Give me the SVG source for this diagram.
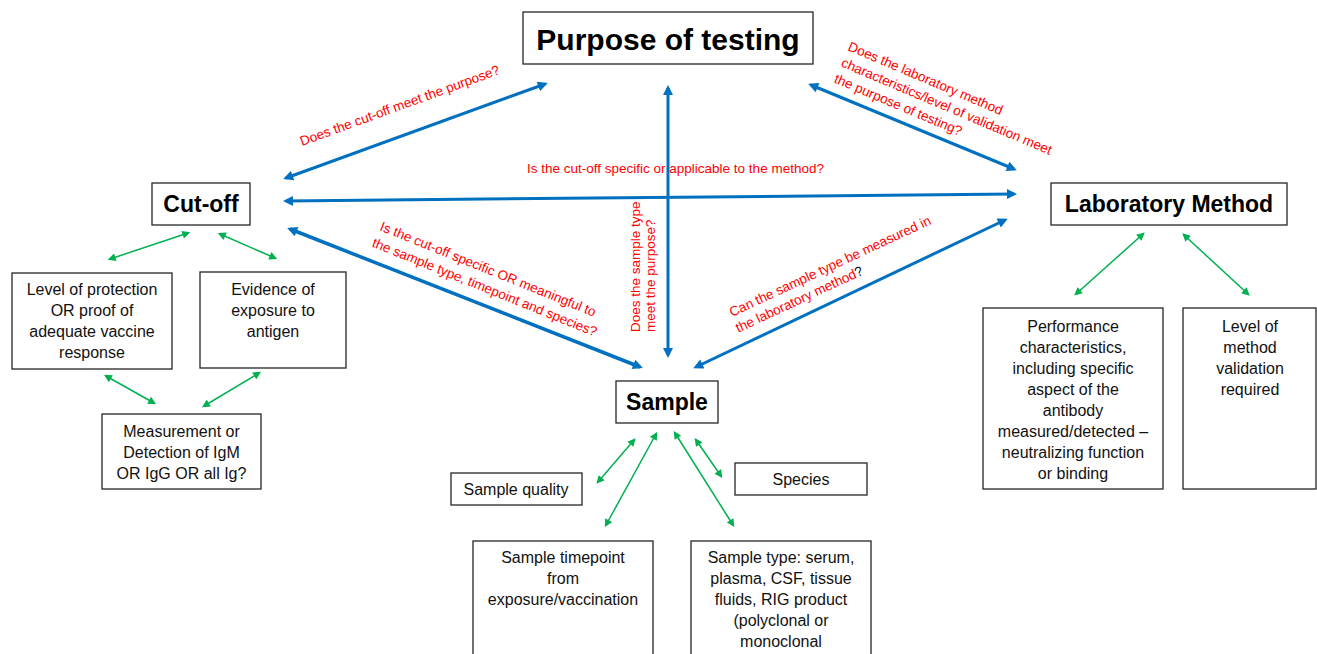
<svg xmlns="http://www.w3.org/2000/svg" width="1317" height="654" viewBox="0 0 1317 654">
<style>
.box{fill:#fff;stroke:#262626;stroke-width:1.3}
.t{font-family:"Liberation Sans",Arial,sans-serif;font-size:16px;fill:#111;text-anchor:middle}
.h{font-family:"Liberation Sans",Arial,sans-serif;font-weight:bold;font-size:23px;fill:#000;text-anchor:middle}
.r{font-family:"Liberation Sans",Arial,sans-serif;font-size:13.5px;fill:#ff0000}
.blue{stroke:#0070c0;stroke-width:3;fill:none;marker-start:url(#bh);marker-end:url(#bh)}
.green{stroke:#00b050;stroke-width:1.5;fill:none;marker-start:url(#gh);marker-end:url(#gh)}
</style>
<defs>
<marker id="bh" viewBox="0 0 10 10" refX="7" refY="5" markerUnits="userSpaceOnUse" markerWidth="12" markerHeight="10" orient="auto-start-reverse"><path d="M0,0 L10,5 L0,10 z" fill="#0070c0"/></marker>
<marker id="gh" viewBox="0 0 10 10" refX="7" refY="5" markerUnits="userSpaceOnUse" markerWidth="9" markerHeight="8" orient="auto-start-reverse"><path d="M0,0 L10,5 L0,10 z" fill="#00b050"/></marker>
</defs>
<rect width="1317" height="654" fill="#fff"/>

<g id="connectors">
<line class="blue" x1="286" y1="178" x2="545" y2="84"/>
<line class="blue" x1="286" y1="201" x2="1014" y2="194"/>
<line class="blue" x1="290" y1="229" x2="640" y2="367" style="stroke-width:3.5"/>
<line class="blue" x1="668" y1="88" x2="668" y2="355"/>
<line class="blue" x1="696" y1="367" x2="1005" y2="220"/>
<line class="blue" x1="811" y1="85" x2="1014" y2="169"/>
<line class="green" x1="188" y1="233" x2="110" y2="259"/>
<line class="green" x1="220" y1="234" x2="275" y2="258"/>
<line class="green" x1="106" y1="376" x2="154" y2="403"/>
<line class="green" x1="259" y1="373" x2="204" y2="406"/>
<line class="green" x1="1143" y1="234" x2="1076" y2="294"/>
<line class="green" x1="1184" y1="235" x2="1248" y2="294"/>
<line class="green" x1="634" y1="440" x2="598" y2="482"/>
<line class="green" x1="656" y1="434" x2="606" y2="525"/>
<line class="green" x1="696" y1="440" x2="721" y2="476"/>
<line class="green" x1="675" y1="433" x2="733" y2="525"/>
</g>

<g id="labels">
<text class="r" transform="translate(302,146) rotate(-20)">Does the cut-off meet the purpose?</text>
<text class="r" x="527" y="173">Is the cut-off specific or applicable to the method?</text>
<text class="r" transform="translate(847,50) rotate(23)"><tspan x="0" y="0">Does the laboratory method</tspan><tspan x="0" y="17.5">characteristics/level of validation meet</tspan><tspan x="0" y="35">the purpose of testing?</tspan></text>
<text class="r" transform="translate(379,230) rotate(22)"><tspan x="0" y="0">Is the cut-off specific OR meaningful to</tspan><tspan x="-1" y="18">the sample type, timepoint and species?</tspan></text>
<text class="r" transform="translate(640,332) rotate(-90)"><tspan x="0" y="0">Does the sample type</tspan><tspan x="0" y="15">meet the purpose?</tspan></text>
<text class="r" transform="translate(732,317) rotate(-25)"><tspan x="0" y="0">Can the sample type be measured in</tspan><tspan x="-1" y="17">the laboratory method</tspan><tspan fill="#000">?</tspan></text>
</g>

<g id="purpose"><rect class="box" x="523" y="12" width="290" height="52"/><text class="h" x="668" y="50" style="font-size:30px">Purpose of testing</text></g>
<g id="cutoff"><rect class="box" x="152" y="183" width="98" height="42"/><text class="h" x="201" y="212">Cut-off</text></g>
<g id="labmethod"><rect class="box" x="1051" y="183" width="236" height="42"/><text class="h" x="1169" y="212">Laboratory Method</text></g>
<g id="sample"><rect class="box" x="616" y="381" width="102" height="42"/><text class="h" x="667" y="410">Sample</text></g>

<g id="protection"><rect class="box" x="12" y="273" width="160" height="96"/><text class="t" x="92" y="295">Level of protection</text><text class="t" x="92" y="316">OR proof of</text><text class="t" x="92" y="337">adequate vaccine</text><text class="t" x="92" y="358">response</text></g>
<g id="exposure"><rect class="box" x="200" y="272" width="146" height="96"/><text class="t" x="273" y="295">Evidence of</text><text class="t" x="273" y="316">exposure to</text><text class="t" x="273" y="337">antigen</text></g>
<g id="measurement"><rect class="box" x="102" y="414" width="159" height="75"/><text class="t" x="181.5" y="437">Measurement or</text><text class="t" x="181.5" y="458">Detection of IgM</text><text class="t" x="181.5" y="479">OR IgG OR all Ig?</text></g>

<g id="performance"><rect class="box" x="983" y="308" width="180" height="181"/><text class="t" x="1073" y="332">Performance</text><text class="t" x="1073" y="353">characteristics,</text><text class="t" x="1073" y="374">including specific</text><text class="t" x="1073" y="395">aspect of the</text><text class="t" x="1073" y="416">antibody</text><text class="t" x="1073" y="437">measured/detected –</text><text class="t" x="1073" y="458">neutralizing function</text><text class="t" x="1073" y="479">or binding</text></g>
<g id="validation"><rect class="box" x="1183" y="308" width="133" height="181"/><text class="t" x="1250" y="332">Level of</text><text class="t" x="1250" y="353">method</text><text class="t" x="1250" y="374">validation</text><text class="t" x="1250" y="395">required</text></g>

<g id="quality"><rect class="box" x="451" y="473" width="131" height="32"/><text class="t" x="516" y="495">Sample quality</text></g>
<g id="species"><rect class="box" x="735" y="463" width="132" height="32"/><text class="t" x="801" y="485">Species</text></g>
<g id="timepoint"><rect class="box" x="473" y="541" width="180" height="125"/><text class="t" x="563" y="563">Sample timepoint</text><text class="t" x="563" y="584">from</text><text class="t" x="563" y="605">exposure/vaccination</text></g>
<g id="sampletype"><rect class="box" x="691" y="541" width="180" height="125"/><text class="t" x="781" y="563">Sample type: serum,</text><text class="t" x="781" y="584">plasma, CSF, tissue</text><text class="t" x="781" y="605">fluids, RIG product</text><text class="t" x="781" y="626">(polyclonal or</text><text class="t" x="781" y="647">monoclonal</text></g>
</svg>
